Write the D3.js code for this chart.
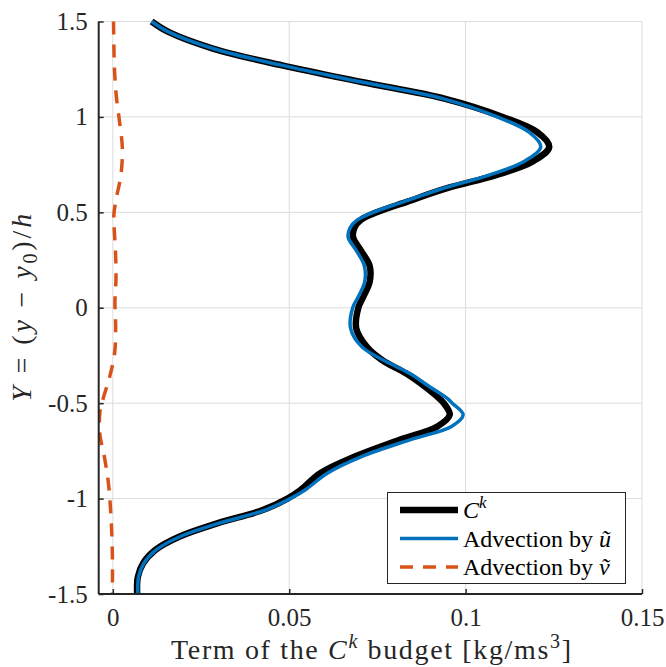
<!DOCTYPE html>
<html>
<head>
<meta charset="utf-8">
<script src="https://cdn.jsdelivr.net/npm/d3@7"></script>
<style>
  body { margin: 0; background: #fff; }
  svg text { font-family: "Liberation Serif", "DejaVu Serif", Times, serif !important; }
</style>
</head>
<body>
<script>
// values
const yCk = [1.5, 1.444, 1.357, 1.27, 1.183, 1.096, 1.0, 0.92, 0.843, 0.765, 0.695, 0.625, 0.556, 0.5, 0.46,
  0.42, 0.37, 0.3, 0.22, 0.136, 0.058, 0.0, -0.108, -0.205, -0.275, -0.345, -0.414, -0.475, -0.5, -0.561, -0.622,
  -0.692, -0.78, -0.867, -0.955, -1.0, -1.06, -1.13, -1.2, -1.27, -1.339, -1.41, -1.5];
const ckValues = [0.011, 0.0159, 0.0286, 0.048, 0.0705, 0.094, 0.1105, 0.1203, 0.1237, 0.1189, 0.1086, 0.0945, 0.0835, 0.0748, 0.0703,
  0.0685, 0.0681, 0.0703, 0.0728, 0.0728, 0.071, 0.0696, 0.069, 0.072, 0.0764, 0.0832, 0.0885, 0.0925, 0.0938, 0.0955, 0.092,
  0.0813, 0.0686, 0.0588, 0.0532, 0.0495, 0.0425, 0.0296, 0.0188, 0.012, 0.0086, 0.0071, 0.0069];
const advUValues = [0.011, 0.0159, 0.0286, 0.048, 0.0705, 0.0935, 0.109, 0.118, 0.1213, 0.1164, 0.1066, 0.0935, 0.0825, 0.0738, 0.0693,
  0.0673, 0.0667, 0.069, 0.0713, 0.0714, 0.0696, 0.068, 0.0674, 0.0706, 0.0768, 0.0842, 0.0898, 0.0948, 0.0962, 0.0993, 0.096,
  0.0842, 0.0705, 0.0608, 0.0545, 0.0503, 0.0432, 0.030, 0.019, 0.0122, 0.0088, 0.0073, 0.0071];

const yAdvV = [1.5, 1.378, 1.238, 1.107, 0.976, 0.836, 0.696, 0.565, 0.486, 0.416, 0.276, 0.154, 0.031, -0.1, -0.24,
  -0.362, -0.467, -0.537, -0.66, -0.78, -0.91, -1.04, -1.18, -1.32, -1.46, -1.5];
const advVValues = [0.0002, 0.0003, 0.0005, 0.001, 0.0019, 0.0027, 0.0023, 0.0009, 0.0003, 0.0004, 0.0008, 0.0009, 0.0006, 0.0008, 0.0005,
  -0.0009, -0.0026, -0.0036, -0.0037, -0.0024, -0.0013, -0.0007, -0.0003, -0.0001, -0.0001, -0.0001];

const xTicks = [0, 0.05, 0.1, 0.15];
const yTicks = [-1.5, -1, -0.5, 0, 0.5, 1, 1.5];

const W = 666, H = 667;
const pLeft = 98.7, pRight = 642, pTop = 21.5, pBottom = 594;
const axisColor = "#262626";

const svg = d3.select("body").append("svg")
  .attr("width", W).attr("height", H);

const x = d3.scaleLinear().domain([-0.004, 0.15]).range([pLeft, pRight]);
const y = d3.scaleLinear().domain([-1.5, 1.5]).range([pBottom, pTop]);

// grid
svg.append("g").selectAll("line").data(xTicks).enter().append("line")
  .attr("x1", d => x(d)).attr("x2", d => x(d)).attr("y1", pTop).attr("y2", pBottom)
  .attr("stroke", "#dcdcdc").attr("stroke-width", 1);
svg.append("g").selectAll("line").data(yTicks).enter().append("line")
  .attr("x1", pLeft).attr("x2", pRight).attr("y1", d => y(d)).attr("y2", d => y(d))
  .attr("stroke", "#dcdcdc").attr("stroke-width", 1);

// curves
svg.append("clipPath").attr("id", "clip").append("rect")
  .attr("x", pLeft).attr("y", pTop - 10).attr("width", pRight - pLeft).attr("height", pBottom - pTop + 10);

const mk = d3.line().x(d => x(d[0])).y(d => y(d[1])).curve(d3.curveCatmullRom.alpha(0.5));

const plot = svg.append("g").attr("clip-path", "url(#clip)");
plot.append("path").datum(ckValues.map((v, i) => [v, yCk[i]]))
  .attr("d", mk).attr("fill", "none").attr("stroke", "#000").attr("stroke-width", 6.5);
plot.append("path").datum(advUValues.map((v, i) => [v, yCk[i]]))
  .attr("d", mk).attr("fill", "none").attr("stroke", "#0072BD").attr("stroke-width", 3.5);
plot.append("path").datum(advVValues.map((v, i) => [v, yAdvV[i]]))
  .attr("d", mk).attr("fill", "none").attr("stroke", "#D95319").attr("stroke-width", 3.5)
  .attr("stroke-dasharray", "13,10");

// axes
const xAxis = d3.axisBottom(x).tickValues(xTicks).tickSize(-5).tickPadding(14)
  .tickFormat(d => String(d));
const gx = svg.append("g").attr("transform", `translate(0,${pBottom})`).call(xAxis);
const yAxis = d3.axisLeft(y).tickValues(yTicks).tickSize(-5).tickPadding(11)
  .tickFormat(d => String(d));
const gy = svg.append("g").attr("transform", `translate(${pLeft},0)`).call(yAxis);
gx.select(".domain").attr("d", `M${pLeft},0H${pRight}`);
gy.select(".domain").attr("d", `M0,${pTop}V${pBottom}`);
[gx, gy].forEach(g => {
  g.select(".domain").attr("stroke", axisColor).attr("stroke-width", 2);
  g.selectAll(".tick line").attr("stroke", axisColor).attr("stroke-width", 1.5);
  g.selectAll(".tick text").attr("fill", axisColor).style("font-size", "25px");
});

// axis labels
const xl = svg.append("text").attr("x", 371).attr("y", 659)
  .attr("text-anchor", "middle").attr("fill", axisColor).style("font-size", "28px")
  .attr("textLength", 400).attr("lengthAdjust", "spacing");
xl.append("tspan").text("Term of the ");
xl.append("tspan").attr("font-style", "italic").text("C");
xl.append("tspan").attr("font-style", "italic").attr("font-size", "20px").attr("dy", -11).text("k");
xl.append("tspan").attr("dy", 11).text(" budget [kg/ms");
xl.append("tspan").attr("font-size", "20px").attr("dy", -11).text("3");
xl.append("tspan").attr("dy", 11).text("]");

const yl = svg.append("text").attr("transform", `translate(31,${(pTop + pBottom) / 2}) rotate(-90)`)
  .attr("text-anchor", "middle").attr("fill", axisColor).style("font-size", "28px")
  .attr("textLength", 188).attr("lengthAdjust", "spacing");
yl.append("tspan").attr("font-style", "italic").text("Y");
yl.append("tspan").text(" = (");
yl.append("tspan").attr("font-style", "italic").text("y");
yl.append("tspan").text(" \u2212 ");
yl.append("tspan").attr("font-style", "italic").text("y");
yl.append("tspan").attr("font-size", "20px").attr("dy", 6).text("0");
yl.append("tspan").attr("dy", -6).text(")/");
yl.append("tspan").attr("font-style", "italic").text("h");

// legend
const legendNames = ["C", "Advection by u\u0303", "Advection by v\u0303"];
const legendColors = ["#000", "#0072BD", "#D95319"];
const legendWidths = [6.5, 3.5, 3.5];
const lg = svg.append("g");
lg.append("rect").attr("x", 387.5).attr("y", 492.5).attr("width", 238).attr("height", 91)
  .attr("fill", "#fff").attr("stroke", axisColor).attr("stroke-width", 1);
legendNames.forEach((name, i) => {
  const ly = 510 + i * 28.5;
  lg.append("line").attr("x1", 400).attr("x2", 458).attr("y1", ly).attr("y2", ly)
    .attr("stroke", legendColors[i]).attr("stroke-width", legendWidths[i])
    .attr("stroke-dasharray", i === 2 ? "13,10" : null);
  const t = lg.append("text").attr("x", 463).attr("y", ly + 8).attr("fill", "#000")
    .style("font-size", "24px");
  if (i === 0) {
    t.append("tspan").attr("font-style", "italic").text("C");
    t.append("tspan").attr("font-style", "italic").attr("font-size", "17px").attr("dy", -10).text("k");
  } else {
    t.append("tspan").text("Advection by ");
    t.append("tspan").attr("font-style", "italic").text(i === 1 ? "u\u0303" : "v\u0303");
  }
});
</script>
</body>
</html>
